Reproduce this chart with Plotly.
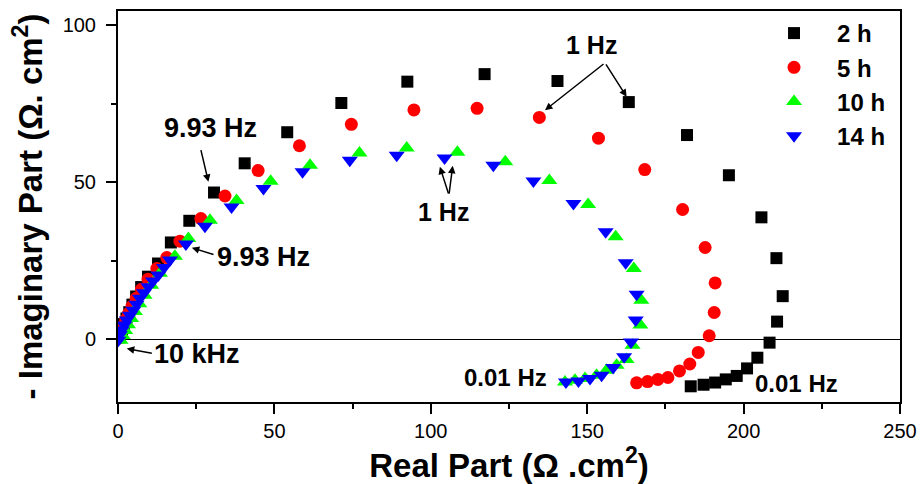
import plotly.graph_objects as go

names = ["2 h", "5 h", "10 h", "14 h"]

x_2h = [0.4, 0.8, 1.3, 1.9, 2.7, 3.6, 4.6, 5.8, 7.4, 9.6, 12.8, 16.9, 22.8, 30.7, 40.5, 54.1, 71.4, 92.5, 117.2, 140.5, 163.3, 181.9, 195.3, 205.7, 210.5, 212.5, 210.7, 208.3, 204.4, 201.1, 197.8, 194.3, 190.9, 187.2, 183.1]
y_2h = [0.6, 1.8, 3.2, 4.8, 6.6, 8.6, 11.0, 13.6, 16.6, 19.9, 24.1, 30.8, 37.7, 46.7, 56.0, 65.9, 75.2, 82.0, 84.4, 82.2, 75.5, 65.0, 52.2, 38.8, 25.8, 13.7, 5.6, -1.1, -5.9, -9.3, -11.7, -12.8, -13.8, -14.5, -15.0]

x_5h = [0.3, 0.7, 1.2, 1.8, 2.5, 3.4, 4.5, 5.8, 7.5, 9.6, 12.4, 15.6, 19.8, 26.5, 34.2, 44.8, 58.0, 74.6, 94.6, 114.8, 134.7, 153.6, 168.4, 180.5, 187.7, 190.9, 190.6, 189.0, 185.5, 182.8, 179.5, 175.8, 172.6, 169.3, 165.8]
y_5h = [0.4, 1.5, 2.9, 4.4, 6.2, 8.2, 10.5, 13.0, 15.9, 19.1, 22.5, 26.0, 31.2, 38.4, 45.6, 53.7, 61.6, 68.4, 73.0, 73.5, 70.6, 64.0, 54.0, 41.3, 29.2, 17.9, 8.5, 1.1, -4.2, -7.9, -10.1, -12.2, -12.8, -13.5, -13.9]

x_10h = [0.8, 1.5, 2.3, 3.2, 4.2, 5.4, 6.8, 8.5, 10.6, 13.4, 18.2, 22.5, 29.4, 37.9, 48.8, 61.4, 77.2, 92.3, 108.5, 123.8, 137.9, 150.3, 159.1, 164.9, 167.3, 167.0, 164.5, 162.6, 159.4, 156.2, 153.0, 149.3, 146.1, 142.9]
y_10h = [-0.3, 1.2, 2.8, 4.6, 6.6, 8.8, 11.3, 14.0, 17.2, 21.0, 26.4, 32.1, 37.9, 44.2, 50.3, 55.4, 59.3, 60.9, 59.5, 56.5, 50.5, 42.9, 32.6, 22.5, 12.4, 4.5, -1.9, -6.5, -8.3, -9.9, -11.5, -12.5, -13.1, -13.6]

x_14h = [0.1, 0.6, 1.2, 2.0, 2.8, 3.8, 4.9, 5.9, 7.0, 8.3, 9.7, 11.2, 12.9, 14.7, 16.6, 21.7, 27.8, 36.3, 46.5, 59.0, 74.1, 89.1, 104.4, 120.0, 132.8, 145.6, 155.9, 162.3, 165.8, 165.5, 164.0, 161.8, 158.3, 154.6, 150.9, 147.2, 143.2]
y_14h = [-0.3, 1.4, 2.9, 4.5, 6.1, 7.6, 9.2, 11.1, 13.0, 14.8, 16.7, 18.5, 20.4, 22.8, 25.2, 30.3, 36.0, 42.1, 48.0, 53.3, 57.0, 58.6, 57.7, 55.4, 50.4, 43.2, 34.2, 24.3, 14.3, 6.1, -0.9, -5.6, -9.0, -11.5, -12.5, -13.3, -13.6]

x_ticks = [0, 50, 100, 150, 200, 250]
y_ticks = [0, 50, 100]

FONT = "Arial, Liberation Sans, sans-serif"

series = [
    (x_2h, y_2h, "square", 12, "#000000"),
    (x_5h, y_5h, "circle", 13, "#ff0000"),
    (x_10h, y_10h, "triangle-up", 14, "#00ff00"),
    (x_14h, y_14h, "triangle-down", 14, "#0000ff"),
]

fig = go.Figure()
for name, (xs, ys, sym, sz, col) in zip(names, series):
    fig.add_trace(go.Scatter(
        x=xs, y=ys, mode="markers", name=name, legendgroup=name,
        marker=dict(symbol=sym, size=sz, color=col, line=dict(width=0)),
    ))

axis_common = dict(
    showline=True, linecolor="black", linewidth=2, mirror=True,
    ticks="outside", ticklen=10, tickwidth=2, tickcolor="black",
    showgrid=False, automargin=False,
    tickfont=dict(family=FONT, size=20, color="black"),
)

fig.update_xaxes(
    range=[0, 250], tickvals=x_ticks, zeroline=False,
    minor=dict(tickvals=[25, 75, 125, 175, 225], ticks="outside", ticklen=5, tickwidth=2, tickcolor="black"),
    title=dict(text="<b>Real Part (Ω .cm<sup>2</sup>)</b>", font=dict(family=FONT, size=33, color="black"), standoff=4),
    **axis_common,
)
fig.update_yaxes(
    range=[-20, 104.5], tickvals=y_ticks, zeroline=True, zerolinecolor="black", zerolinewidth=1,
    minor=dict(tickvals=[-25, 25, 75], ticks="outside", ticklen=5, tickwidth=2, tickcolor="black"),
    ticklabelstandoff=6,
    title=dict(text="<b>- Imaginary Part (Ω. cm<sup>2</sup>)</b>", font=dict(family=FONT, size=33, color="black"), standoff=10),
    **axis_common,
)

texts = [
    ("9.93 Hz", 29.7, 67.2, 27),
    ("9.93 Hz", 46.4, 26.2, 27),
    ("10 kHz", 25.3, -4.6, 27),
    ("1 Hz", 151.4, 93.6, 25),
    ("1 Hz", 103.9, 40.5, 25),
    ("0.01 Hz", 124.0, -12.3, 24),
    ("0.01 Hz", 216.8, -14.1, 24),
]
for t, x, y, fs in texts:
    fig.add_annotation(x=x, y=y, xref="x", yref="y", text="<b>%s</b>" % t,
                       showarrow=False, font=dict(family=FONT, size=fs, color="black"))

arrows = [
    (26.4, 60.7, 28.9, 50.1),
    (31.0, 26.8, 23.6, 29.1),
    (11.3, -4.6, 2.8, -3.0),
    (155.7, 88.0, 136.5, 72.9),
    (155.7, 88.0, 162.6, 77.2),
    (105.8, 45.9, 102.9, 54.9),
    (105.8, 45.9, 107.0, 55.2),
]
for ax, ay, hx, hy in arrows:
    fig.add_annotation(x=hx, y=hy, ax=ax, ay=ay, xref="x", yref="y", axref="x", ayref="y",
                       text="", showarrow=True, arrowhead=2, arrowsize=1, arrowwidth=1.5,
                       arrowcolor="black", standoff=0)

fig.update_layout(
    width=920, height=484,
    margin=dict(l=118, r=20, t=11, b=82),
    paper_bgcolor="white", plot_bgcolor="white",
    showlegend=True,
    legend=dict(x=0.8095, y=1.0, xanchor="left", yanchor="top",
                font=dict(family=FONT, size=24, color="black", weight="bold"),
                itemwidth=76, tracegroupgap=0, bgcolor="rgba(0,0,0,0)", borderwidth=0),
)

# Remove the default page margin so the 920x484 figure fills the window exactly.
fig.write_html("out.html",
               config={"displayModeBar": False, "staticPlot": True},
               post_script="document.body.style.margin='0';document.body.style.overflow='hidden';")
